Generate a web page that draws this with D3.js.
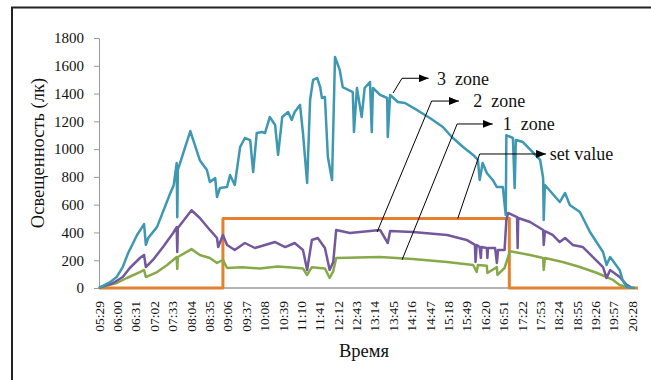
<!DOCTYPE html>
<html>
<head>
<meta charset="utf-8">
<script src="https://cdn.jsdelivr.net/npm/d3@7"></script>
<style>
  body { margin: 0; background: #fff; }
  svg text { font-family: 'Liberation Serif', 'DejaVu Serif', serif; }
</style>
</head>
<body>
<svg id="chart" width="651" height="380"></svg>
<script>
// tick labels on the time axis (every 31 min)
const timeTicks = ['05:29', '06:00', '06:31', '07:02', '07:33', '08:04', '08:35', '09:06', '09:37', '10:08',
  '10:39', '11:10', '11:41', '12:12', '12:43', '13:14', '13:45', '14:16', '14:47', '15:18',
  '15:49', '16:20', '16:51', '17:22', '17:53', '18:24', '18:55', '19:26', '19:57', '20:28'];
const yTicks = [0, 200, 400, 600, 800, 1000, 1200, 1400, 1600, 1800];

// zone 3 (cyan)
const zone3Time = ['05:29', '05:31', '05:47', '05:59', '06:09', '06:18', '06:33', '06:45', '06:48', '06:52', '07:07',
  '07:17', '07:29', '07:35', '07:40', '07:41', '07:42', '08:03', '08:19', '08:31', '08:36', '08:45', '08:48',
  '08:53', '09:05', '09:10', '09:18', '09:27', '09:35', '09:44', '09:49', '09:55', '10:04', '10:09', '10:17',
  '10:26', '10:31', '10:38', '10:48', '10:54', '10:59', '11:08', '11:13', '11:20', '11:25', '11:30', '11:37',
  '11:42', '11:45', '11:50', '11:55', '12:02', '12:07', '12:15', '12:20', '12:37', '12:39', '12:44', '12:52',
  '12:57', '13:06', '13:09', '13:11', '13:23', '13:35', '13:36', '13:40', '13:53', '14:05', '14:25', '14:47',
  '15:09', '15:24', '15:43', '16:00', '16:08', '16:11', '16:16', '16:23', '16:33', '16:40', '16:50', '16:55',
  '16:56', '17:07', '17:10', '17:12', '17:24', '17:53', '17:58', '17:59', '18:01', '18:04', '18:26', '18:35',
  '18:43', '19:00', '19:17', '19:39', '19:45', '19:51', '20:07', '20:12', '20:19', '20:33'];
const zone3Value = [0, 5, 40, 80, 150, 250, 380, 460, 310, 360, 440,
  550, 680, 740, 900, 510, 850, 1130, 920, 850, 763, 792, 655,
  720, 727, 814, 742, 1015, 1080, 1065, 835, 1116, 1123, 1116, 1231,
  1174, 958, 1231, 1267, 1210, 1267, 1318, 1116, 756, 1354, 1498, 1512,
  1447, 1368, 1375, 943, 778, 1663, 1570, 1447, 1411, 1123, 1440, 1231,
  1440, 1483, 1123, 1440, 1390, 1368, 1087, 1390, 1339, 1332, 1282, 1224,
  1159, 1087, 1015, 958, 922, 778, 900, 828, 778, 727, 727, 525,
  1100, 1080, 720, 1066, 1051, 922, 792, 490, 742, 727, 619, 684,
  598, 547, 403, 259, 166, 223, 130, 58, 7, 0];

// zone 2 (purple)
const zone2Time = ['05:29', '05:31', '05:53', '06:09', '06:21', '06:38', '06:45', '06:48', '07:00', '07:17', '07:34',
  '07:40', '07:41', '07:42', '08:05', '08:19', '08:36', '08:48', '08:50', '08:58', '09:05', '09:18', '09:35',
  '09:52', '10:09', '10:26', '10:43', '10:59', '11:13', '11:20', '11:28', '11:38', '11:50', '11:58', '12:04',
  '12:09', '12:32', '13:23', '13:36', '13:40', '14:18', '15:16', '15:49', '16:03', '16:04', '16:06', '16:11',
  '16:13', '16:14', '16:23', '16:24', '16:25', '16:37', '16:40', '16:42', '16:53', '16:56', '16:59', '17:14',
  '17:15', '17:16', '17:36', '17:58', '17:59', '18:01', '18:14', '18:26', '18:35', '18:48', '19:05', '19:22',
  '19:39', '19:45', '19:51', '20:07', '20:19', '20:28'];
const zone2Value = [0, 5, 36, 79, 144, 216, 238, 151, 202, 295, 396,
  439, 259, 432, 560, 504, 418, 360, 295, 382, 310, 274, 324,
  288, 310, 331, 295, 324, 274, 130, 346, 360, 288, 130, 187,
  418, 396, 418, 324, 410, 403, 382, 346, 310, 187, 310, 295,
  216, 295, 288, 216, 288, 288, 180, 274, 274, 490, 540, 511,
  288, 504, 475, 418, 310, 410, 382, 331, 360, 310, 295, 223,
  151, 72, 130, 79, 22, 0];

// zone 1 (green)
const zone1Time = ['05:29', '05:31', '05:59', '06:16', '06:38', '06:45', '06:48', '07:07', '07:24', '07:40', '07:41',
  '07:42', '08:05', '08:19', '08:36', '08:48', '08:58', '09:05', '09:30', '10:00', '10:30', '11:00', '11:13',
  '11:20', '11:28', '11:50', '11:58', '12:04', '12:09', '13:23', '14:18', '15:16', '16:00', '16:06', '16:08',
  '16:23', '16:24', '16:40', '16:41', '16:53', '17:02', '17:36', '17:58', '17:59', '18:01', '18:31', '19:00',
  '19:29', '19:56', '20:07', '20:24'];
const zone1Value = [0, 5, 36, 72, 115, 130, 79, 115, 166, 223, 137,
  223, 280, 238, 216, 180, 202, 144, 150, 140, 155, 145, 140,
  94, 150, 140, 72, 120, 216, 223, 209, 187, 166, 115, 166,
  160, 108, 150, 94, 144, 265, 238, 216, 130, 216, 187, 151,
  108, 58, 22, 0];

// set value (orange)
const setTime = ['05:29', '08:58', '08:58', '17:01', '17:01', '20:38'];
const setValue = [0, 0, 500, 500, 0, 0];

// callouts: anchor on a line, elbow, arrow tip, label start
const calloutLabels = ['3  zone', '2  zone', '1  zone', 'set value'];
const calloutAnchorTime = ['13:45', '13:18', '14:00', '15:34'];
const calloutAnchorValue = [1404, 403, 202, 500];
const calloutElbowTime = ['14:00', '14:50', '15:33', '16:11'];
const calloutElbowValue = [1510, 1346, 1181, 965];
const calloutTipTime = ['14:45', '15:36', '16:33', '18:03'];
const calloutTextTime = ['14:59', '16:00', '16:50', '18:09'];

const serif = "'Liberation Serif', 'DejaVu Serif', serif";

function toMin(s) {
  const p = s.split(':');
  return +p[0] * 60 + +p[1];
}

const svg = d3.select('#chart');

// outer frame (cut off at right and bottom like the source)
svg.append('rect')
  .attr('x', 12)
  .attr('y', 7.5)
  .attr('width', 700)
  .attr('height', 500)
  .attr('fill', 'none')
  .attr('stroke', '#222')
  .attr('stroke-width', 2);

const x = d3.scaleLinear().domain([toMin('05:29'), toMin('20:38')]).range([99, 638]);
const y = d3.scaleLinear().domain([0, 1800]).range([288, 38]);

// y axis
const yAxis = svg.append('g')
  .attr('transform', 'translate(99,0)')
  .call(d3.axisLeft(y).tickValues(yTicks).tickFormat(d3.format('d')).tickSize(5).tickPadding(10));
yAxis.attr('font-family', serif);
yAxis.select('.domain').attr('stroke', '#9a9a9a');
yAxis.selectAll('.tick line').attr('stroke', '#9a9a9a');
yAxis.selectAll('.tick text')
  .attr('font-family', serif)
  .attr('font-size', 15)
  .attr('fill', '#111');

// x axis line
svg.append('line')
  .attr('x1', x.range()[0])
  .attr('x2', x.range()[1])
  .attr('y1', y(0))
  .attr('y2', y(0))
  .attr('stroke', '#9a9a9a')
  .attr('stroke-width', 1.5);

// rotated time labels
svg.append('g')
  .selectAll('text')
  .data(timeTicks)
  .enter()
  .append('text')
  .attr('transform', function(d) {
    return 'translate(' + x(toMin(d)) + ',301) rotate(-90)';
  })
  .attr('dy', '0.35em')
  .attr('text-anchor', 'end')
  .attr('font-family', serif)
  .attr('font-size', 13.5)
  .attr('fill', '#111')
  .text(function(d) { return d; });

// axis titles
svg.append('text')
  .attr('transform', 'translate(38,153) rotate(-90)')
  .attr('dy', '0.35em')
  .attr('text-anchor', 'middle')
  .attr('font-family', serif)
  .attr('font-size', 18.5)
  .attr('fill', '#111')
  .text('Освещенность (лк)');

svg.append('text')
  .attr('x', 364)
  .attr('y', 357)
  .attr('text-anchor', 'middle')
  .attr('font-family', serif)
  .attr('font-size', 18.5)
  .attr('fill', '#111')
  .text('Время');

// series
const line = d3.line()
  .x(function(d) { return x(toMin(d[0])); })
  .y(function(d) { return y(d[1]); });

const series = [
  { time: setTime, value: setValue, color: '#e4812f', width: 3 },
  { time: zone1Time, value: zone1Value, color: '#88a94a', width: 2.5 },
  { time: zone2Time, value: zone2Value, color: '#74589c', width: 2.5 },
  { time: zone3Time, value: zone3Value, color: '#3e98b2', width: 2.5 }
];

svg.append('g')
  .selectAll('path')
  .data(series)
  .enter()
  .append('path')
  .attr('d', function(d) {
    return line(d.time.map(function(t, i) { return [t, d.value[i]]; }));
  })
  .attr('fill', 'none')
  .attr('stroke', function(d) { return d.color; })
  .attr('stroke-width', function(d) { return d.width; })
  .attr('stroke-linejoin', 'round');

// callouts
svg.append('defs')
  .append('marker')
  .attr('id', 'arrow')
  .attr('viewBox', '0 0 10 8')
  .attr('refX', 10)
  .attr('refY', 4)
  .attr('markerWidth', 10)
  .attr('markerHeight', 8)
  .attr('markerUnits', 'userSpaceOnUse')
  .attr('orient', 'auto')
  .append('path')
  .attr('d', 'M0,0L10,4L0,8Z')
  .attr('fill', '#000');

const callouts = calloutLabels.map(function(label, i) {
  return {
    label: label,
    pts: [
      [x(toMin(calloutAnchorTime[i])), y(calloutAnchorValue[i])],
      [x(toMin(calloutElbowTime[i])), y(calloutElbowValue[i])],
      [x(toMin(calloutTipTime[i])), y(calloutElbowValue[i])]
    ],
    tx: x(toMin(calloutTextTime[i])),
    ty: y(calloutElbowValue[i])
  };
});

const cg = svg.append('g');
cg.selectAll('polyline')
  .data(callouts)
  .enter()
  .append('polyline')
  .attr('points', function(d) { return d.pts.join(' '); })
  .attr('fill', 'none')
  .attr('stroke', '#000')
  .attr('stroke-width', 1)
  .attr('marker-end', 'url(#arrow)');

cg.selectAll('text')
  .data(callouts)
  .enter()
  .append('text')
  .attr('x', function(d) { return d.tx; })
  .attr('y', function(d) { return d.ty; })
  .attr('dy', '0.35em')
  .attr('font-family', serif)
  .attr('font-size', 18)
  .attr('fill', '#111')
  .style('white-space', 'pre')
  .text(function(d) { return d.label; });
</script>
</body>
</html>
